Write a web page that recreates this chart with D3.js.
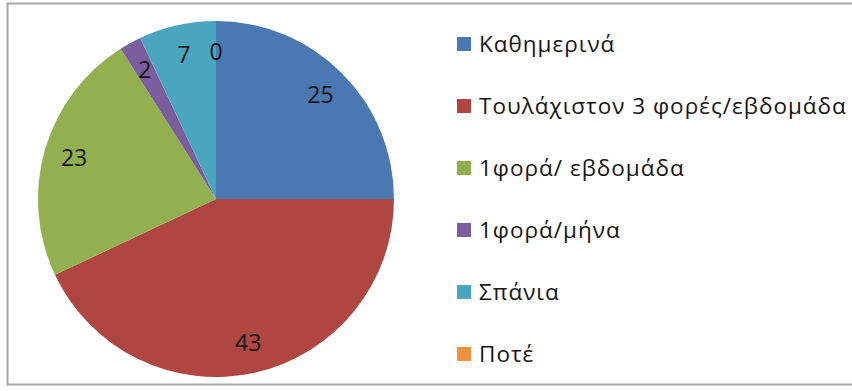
<!DOCTYPE html>
<html><head><meta charset="utf-8">
<script src="https://cdn.jsdelivr.net/npm/d3@7"></script>
<style>body{margin:0;background:#fff}svg{display:block}</style>
</head><body>
<script>
const categories = ["Καθημερινά","Τουλάχιστον 3 φορές/εβδομάδα","1φορά/ εβδομάδα","1φορά/μήνα","Σπάνια","Ποτέ"];
const values = [25, 43, 23, 2, 7, 0];
const colors = ["#4A78B2","#B04641","#93B050","#7B5E9D","#4AA6BF","#F0913F"];

const W = 852, H = 391;
const svg = d3.select("body").append("svg").attr("width", W).attr("height", H);
const font = "'Open Sans', sans-serif";

// frame
svg.append("rect").attr("x", 7.5).attr("y", 3.5).attr("width", W + 10).attr("height", 381)
  .attr("fill", "#fff").attr("stroke", "#a8a8a8").attr("stroke-width", 2);

const cx = 216, cy = 199, r = 178;
const pie = d3.pie().sort(null).value(d => d)(values);
const arc = d3.arc().innerRadius(0).outerRadius(r);
const labelArc = d3.arc().innerRadius(r * 0.83).outerRadius(r * 0.83);
const g = svg.append("g").attr("transform", `translate(${cx},${cy})`);
g.selectAll("path").data(pie).join("path")
  .attr("d", arc).attr("fill", (d, i) => colors[i]);
g.selectAll("text").data(pie).join("text")
  .attr("transform", d => `translate(${labelArc.centroid(d)})`)
  .attr("text-anchor", "middle").attr("dy", "0.36em")
  .attr("font-family", font).attr("font-size", 23).attr("fill", "#151515")
  .text(d => d.data);

// legend
const ly = d3.scalePoint().domain(categories).range([44, 354]);
const lg = svg.append("g");
const rows = lg.selectAll("g").data(categories).join("g")
  .attr("transform", d => `translate(457,${ly(d)})`);
rows.append("rect").attr("x", 0).attr("y", -7).attr("width", 14).attr("height", 14)
  .attr("fill", (d, i) => colors[i]);
rows.append("text").attr("x", 22).attr("dy", "0.36em")
  .attr("font-family", font).attr("font-size", 22.5).attr("letter-spacing", 1)
  .attr("fill", "#151515")
  .text(d => d);
</script>
</body></html>
